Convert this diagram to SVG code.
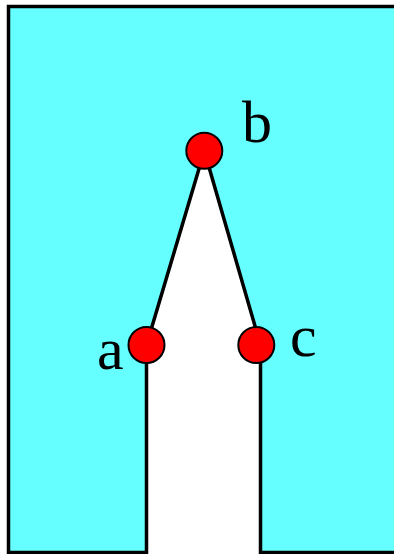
<svg xmlns="http://www.w3.org/2000/svg" width="394" height="554" viewBox="0 0 394 554">
<style>
.lbl{font-family:"Liberation Serif","Times New Roman",serif;font-size:60px;fill:#000}
.pt{fill:#ff0000;stroke:#000;stroke-width:2}
</style>
<rect width="394" height="554" fill="#fff"/>
<g id="region">
<path d="M8.5,6.5 H398 V552.5 H260.5 V345 L204.3,151 L146.5,345 V552.5 H8.5 Z" fill="#66ffff" stroke="#000" stroke-width="3.5" stroke-linejoin="miter"/>
</g>
<g id="connectors"/>
<g id="node-a"><circle class="pt" cx="146.5" cy="345" r="18"/><text class="lbl" x="97" y="369">a</text></g>
<g id="node-b"><circle class="pt" cx="204.3" cy="150.8" r="18"/><text class="lbl" x="242" y="141.5">b</text></g>
<g id="node-c"><circle class="pt" cx="256.3" cy="345" r="18"/><text class="lbl" x="290" y="356">c</text></g>
</svg>
